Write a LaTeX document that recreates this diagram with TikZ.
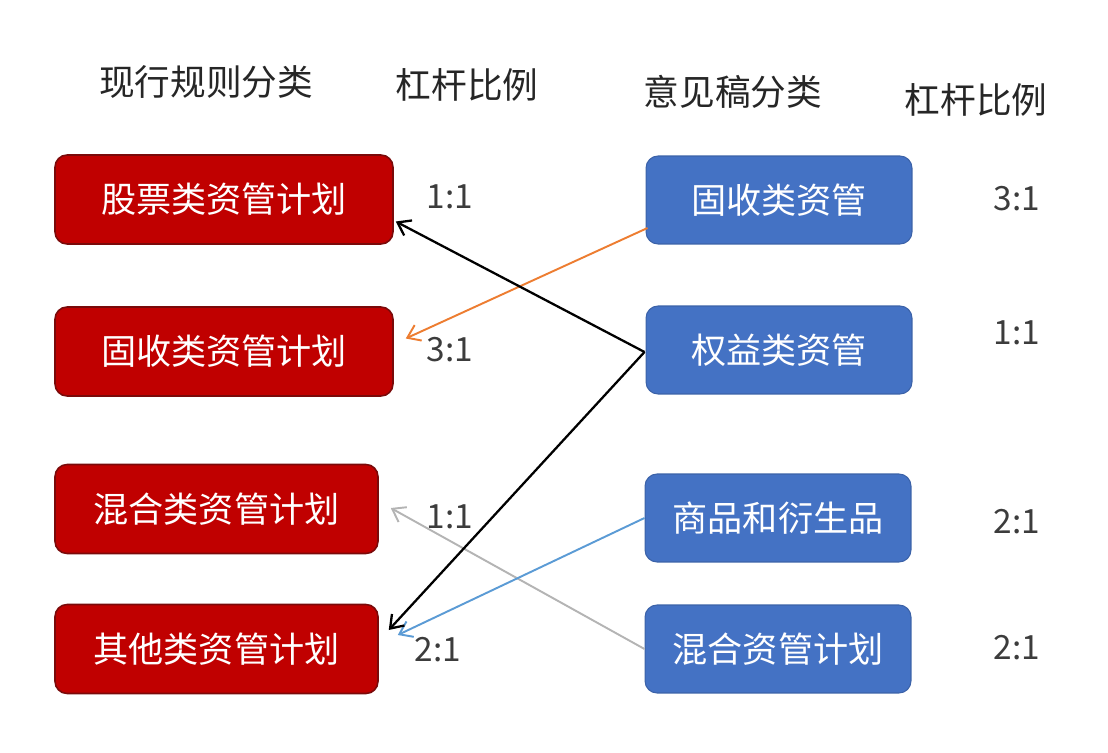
\documentclass[tikz,border=0pt]{standalone}
\usepackage{fontspec}
\setmainfont{Noto Sans CJK SC}
\usetikzlibrary{arrows.meta}

\definecolor{oldred}{HTML}{C00000}
\definecolor{oldedge}{HTML}{7A0A0A}
\definecolor{newblue}{HTML}{4472C4}
\definecolor{newedge}{HTML}{3B62A8}
\definecolor{orangeline}{HTML}{ED7D31}
\definecolor{blueline}{HTML}{5B9BD5}
\definecolor{greyline}{HTML}{B4B4B4}
\definecolor{ratiotext}{HTML}{3C3C3C}

\tikzset{
  oldbox/.style={draw=oldedge, fill=oldred, line width=0.9pt, rounded corners=0.24cm,
    minimum height=1.78cm, text=white, font=\fontsize{20}{23}\selectfont},
  newbox/.style={draw=newedge, fill=newblue, line width=0.6pt, rounded corners=0.24cm,
    minimum width=5.32cm, minimum height=1.76cm, text=white, font=\fontsize{20}{23}\selectfont},
  head/.style={text=black!85, font=\fontsize{20.3}{23}\selectfont},
  ratio/.style={text=ratiotext, font=\fontsize{19}{22}\selectfont},
  link/.style={->, line width=1.1pt}
}

\begin{document}
\begin{tikzpicture}[x=0.02cm, y=-0.02cm, >={Straight Barb[length=2.4mm, width=3.4mm]}]
\useasboundingbox (0,0) rectangle (1108,753);

% Headers
\node[head] (h1) at (206,82) {现行规则分类};
\node[head] (h2) at (467,85) {杠杆比例};
\node[head] (h3) at (733,92) {意见稿分类};
\node[head] (h4) at (976,100) {杠杆比例};

% Current rules
\node[oldbox, minimum width=6.76cm] (r1) at (224,199.5) {股票类资管计划};
\node[oldbox, minimum width=6.76cm] (r2) at (224,351.5) {固收类资管计划};
\node[oldbox, minimum width=6.46cm] (r3) at (216.5,509) {混合类资管计划};
\node[oldbox, minimum width=6.46cm] (r4) at (216.5,649) {其他类资管计划};

% Draft categories
\node[newbox] (b1) at (779,200) {固收类资管};
\node[newbox] (b2) at (779,350) {权益类资管};
\node[newbox] (b3) at (778,518) {商品和衍生品};
\node[newbox] (b4) at (778,649) {混合资管计划};

% Ratios
\node[ratio] (lr1) at (450,197) {1:1};
\node[ratio] (lr2) at (450,350) {3:1};
\node[ratio] (lr3) at (450,517) {1:1};
\node[ratio] (lr4) at (438,650) {2:1};
\node[ratio] (rr1) at (1017,199) {3:1};
\node[ratio] (rr2) at (1017,333) {1:1};
\node[ratio] (rr3) at (1017,522) {2:1};
\node[ratio] (rr4) at (1017,648) {2:1};

% Mapping
\draw[link, orangeline] ([shift={(2,28)}]b1.west) -- ([shift={(12,-13)}]r2.east);
\draw[link, greyline] (b4.west) -- ([shift={(12,-1)}]r3.east);
\draw[link, blueline] (b3.west) -- ([shift={(19,-14)}]r4.east);
\draw[link, black, line width=1.3pt] ([shift={(-1,2)}]b2.west) -- ([shift={(2,22)}]r1.east);
\draw[link, black, line width=1.3pt] ([shift={(-1,2)}]b2.west) -- ([shift={(10,-19)}]r4.east);

\end{tikzpicture}
\end{document}
